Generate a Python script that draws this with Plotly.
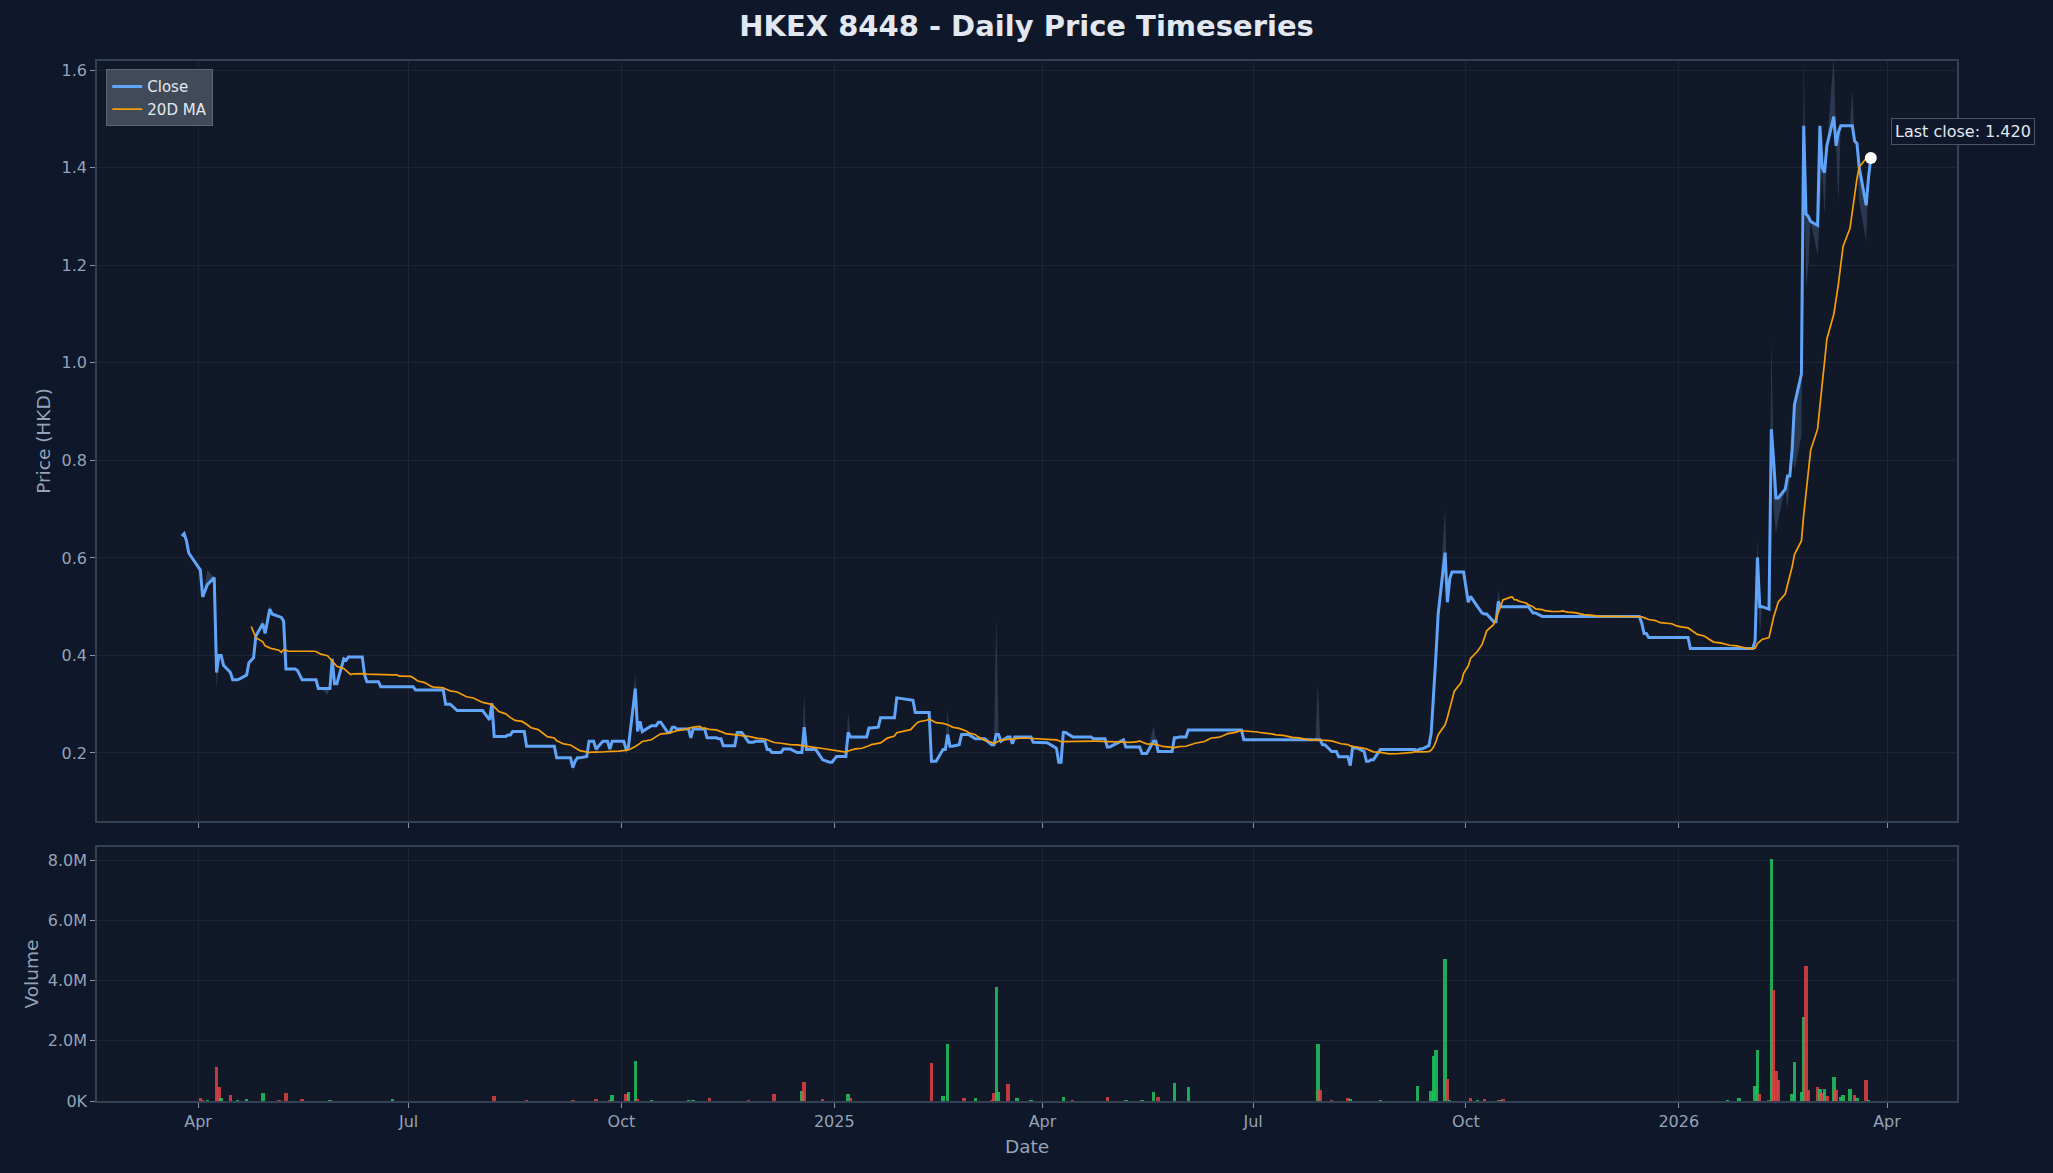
import pandas as pd
import plotly.graph_objects as go
from plotly.subplots import make_subplots

TITLE = "HKEX 8448 - Daily Price Timeseries"

# Exchange holidays (no trading rows)
holidays = ["2024-03-29", "2024-04-01", "2024-04-04", "2024-05-01", "2024-05-15", "2024-06-10",
            "2024-07-01", "2024-09-18", "2024-10-01", "2024-10-11", "2024-12-25", "2024-12-26",
            "2025-01-01", "2025-01-29", "2025-01-30", "2025-01-31", "2025-04-04", "2025-04-18",
            "2025-04-21", "2025-05-01", "2025-05-05", "2025-07-01", "2025-10-01", "2025-10-07",
            "2025-10-29", "2025-12-25", "2025-12-26", "2026-01-01"]

# Close price change points (price holds until the next listed date)
close_dates = [
    "2024-03-25", "2024-03-26", "2024-03-27", "2024-03-28", "2024-04-02",
    "2024-04-03", "2024-04-05", "2024-04-08", "2024-04-09", "2024-04-10", "2024-04-12", "2024-04-15",
    "2024-04-16", "2024-04-19", "2024-04-22", "2024-04-23", "2024-04-24", "2024-04-25", "2024-04-26",
    "2024-04-29", "2024-04-30", "2024-05-02", "2024-05-03", "2024-05-06", "2024-05-07",
    "2024-05-08", "2024-05-09", "2024-05-14", "2024-05-16", "2024-05-23", "2024-05-29", "2024-05-30",
    "2024-06-03", "2024-06-04", "2024-06-05", "2024-06-12", "2024-06-13", "2024-06-19", "2024-07-04",
    "2024-07-17", "2024-07-22", "2024-08-05", "2024-08-06", "2024-08-07", "2024-08-13", "2024-08-15",
    "2024-08-21", "2024-09-03", "2024-09-10", "2024-09-11", "2024-09-12", "2024-09-16", "2024-09-17",
    "2024-09-20", "2024-09-23", "2024-09-26", "2024-09-27", "2024-10-03", "2024-10-04", "2024-10-07",
    "2024-10-08", "2024-10-09", "2024-10-10", "2024-10-14", "2024-10-17", "2024-10-21", "2024-10-23",
    "2024-10-25", "2024-10-31", "2024-11-01", "2024-11-07", "2024-11-12", "2024-11-14", "2024-11-20",
    "2024-11-25", "2024-11-28", "2024-12-03", "2024-12-05", "2024-12-10", "2024-12-16", "2024-12-19",
    "2024-12-20", "2024-12-27", "2024-12-30", "2025-01-02", "2025-01-07", "2025-01-08", "2025-01-16",
    "2025-01-20", "2025-01-21", "2025-01-28", "2025-02-03", "2025-02-05", "2025-02-12", "2025-02-17",
    "2025-02-19", "2025-02-20", "2025-02-24", "2025-02-25", "2025-03-03", "2025-03-10", "2025-03-12",
    "2025-03-14", "2025-03-17", "2025-03-19", "2025-03-20", "2025-03-28", "2025-04-02", "2025-04-07",
    "2025-04-08", "2025-04-10", "2025-04-14", "2025-04-23", "2025-04-29", "2025-05-02", "2025-05-06",
    "2025-05-07", "2025-05-14", "2025-05-19", "2025-05-21", "2025-05-28", "2025-05-30", "2025-06-03",
    "2025-06-27", "2025-07-31", "2025-08-04", "2025-08-07", "2025-08-12", "2025-08-13", "2025-08-18",
    "2025-08-19", "2025-08-21", "2025-08-25", "2025-09-10", "2025-09-11", "2025-09-15", "2025-09-16",
    "2025-09-17", "2025-09-18", "2025-09-19", "2025-09-22", "2025-09-23", "2025-09-24", "2025-09-25",
    "2025-10-02", "2025-10-03", "2025-10-06", "2025-10-08", "2025-10-09", "2025-10-13", "2025-10-15",
    "2025-10-16", "2025-10-30", "2025-11-03", "2025-12-16", "2025-12-17", "2025-12-19", "2026-01-06",
    "2026-02-03", "2026-02-04", "2026-02-05", "2026-02-09", "2026-02-10", "2026-02-11", "2026-02-12",
    "2026-02-16", "2026-02-17", "2026-02-19", "2026-02-20", "2026-02-23", "2026-02-24", "2026-02-25",
    "2026-02-26", "2026-02-27", "2026-03-02", "2026-03-03", "2026-03-04", "2026-03-05", "2026-03-06",
    "2026-03-09", "2026-03-10", "2026-03-11", "2026-03-12", "2026-03-18", "2026-03-19", "2026-03-20",
    "2026-03-23", "2026-03-24", "2026-03-25",
]
close_vals = [
    0.645, 0.650, 0.635, 0.610, 0.575,
    0.520, 0.545, 0.560, 0.365, 0.400, 0.380, 0.365,
    0.350, 0.352, 0.360, 0.385, 0.390, 0.395, 0.440,
    0.465, 0.445, 0.495, 0.485, 0.480, 0.478,
    0.470, 0.372, 0.369, 0.350, 0.332, 0.393, 0.342,
    0.393, 0.390, 0.397, 0.360, 0.346, 0.336, 0.329,
    0.300, 0.287, 0.268, 0.302, 0.234, 0.237, 0.244,
    0.214, 0.190, 0.170, 0.183, 0.190, 0.193, 0.224,
    0.208, 0.224, 0.208, 0.224, 0.208, 0.212, 0.332,
    0.244, 0.265, 0.244, 0.256, 0.263, 0.242, 0.253,
    0.249, 0.231, 0.249, 0.231, 0.229, 0.215, 0.242,
    0.222, 0.224, 0.207, 0.201, 0.208, 0.201, 0.253,
    0.207, 0.186, 0.181, 0.193, 0.242, 0.233, 0.251,
    0.253, 0.272, 0.313, 0.308, 0.283, 0.183, 0.207,
    0.238, 0.214, 0.217, 0.238, 0.229, 0.217, 0.238,
    0.224, 0.233, 0.219, 0.233, 0.222, 0.221, 0.210,
    0.181, 0.242, 0.233, 0.229, 0.212, 0.217, 0.227,
    0.212, 0.199, 0.224, 0.203, 0.231, 0.233, 0.247,
    0.227, 0.217, 0.203, 0.192, 0.174, 0.210, 0.203,
    0.183, 0.186, 0.207, 0.205, 0.208, 0.215, 0.241,
    0.309, 0.397, 0.485, 0.611, 0.509, 0.557, 0.571,
    0.509, 0.521, 0.500, 0.487, 0.485, 0.469, 0.511,
    0.500, 0.487, 0.480, 0.466, 0.445, 0.437, 0.414,
    0.431, 0.601, 0.500, 0.495, 0.864, 0.800, 0.723,
    0.741, 0.768, 0.823, 0.914, 0.977, 1.486, 1.305,
    1.300, 1.290, 1.282, 1.486, 1.400, 1.390, 1.445,
    1.505, 1.445, 1.473, 1.486, 1.455, 1.450, 1.400,
    1.323, 1.380, 1.420,
]

# Intraday high / low where they differ visibly from the close
high_dates = ["2024-03-26", "2024-04-05", "2024-04-29", "2024-05-02", "2024-05-29", "2024-06-05",
              "2024-08-06", "2024-10-07", "2024-12-19", "2025-01-07", "2025-02-19", "2025-03-12",
              "2025-04-10", "2025-05-19", "2025-07-29", "2025-09-22", "2025-10-15", "2026-02-04",
              "2026-02-10", "2026-02-24", "2026-03-09", "2026-03-17"]
high_vals = [0.655, 0.575, 0.475, 0.505, 0.400, 0.402,
             0.310, 0.365, 0.320, 0.282, 0.292, 0.480,
             0.250, 0.255, 0.345, 0.700, 0.535, 0.640,
             1.050, 1.630, 1.630, 1.560]
low_dates = ["2024-04-09", "2024-05-27", "2024-09-10", "2024-09-20", "2024-10-03", "2025-02-12",
             "2025-04-08", "2025-08-12", "2026-02-05", "2026-02-11", "2026-02-12", "2026-02-13",
             "2026-02-17", "2026-02-20", "2026-02-23", "2026-02-25", "2026-02-26", "2026-03-02",
             "2026-03-03", "2026-03-05", "2026-03-11", "2026-03-20", "2026-03-23"]
low_vals = [0.330, 0.320, 0.160, 0.195, 0.195, 0.175,
            0.175, 0.170, 0.440, 0.700, 0.650, 0.680,
            0.700, 0.780, 0.850, 1.150, 1.200, 1.220,
            1.300, 1.300, 1.330, 1.330, 1.250]

# Daily volume (shares) on days with visible trading; vol_up: True = green, False = red
vol_dates = [
    "2024-04-02", "2024-04-03", "2024-04-05", "2024-04-09", "2024-04-10", "2024-04-11", "2024-04-15",
    "2024-04-18", "2024-04-22", "2024-04-29", "2024-05-06", "2024-05-09", "2024-05-16", "2024-05-28",
    "2024-06-24", "2024-08-07", "2024-08-21", "2024-09-10", "2024-09-20", "2024-09-26", "2024-09-27",
    "2024-10-03", "2024-10-04", "2024-10-07", "2024-10-08", "2024-10-14", "2024-10-30", "2024-11-01",
    "2024-11-08", "2024-11-25", "2024-12-06", "2024-12-18", "2024-12-19", "2024-12-27", "2025-01-07",
    "2025-01-08", "2025-02-12", "2025-02-17", "2025-02-19", "2025-02-26", "2025-03-03", "2025-03-10",
    "2025-03-11", "2025-03-12", "2025-03-13", "2025-03-17", "2025-03-21", "2025-03-27", "2025-04-10",
    "2025-04-14", "2025-04-29", "2025-05-07", "2025-05-14", "2025-05-19", "2025-05-21", "2025-05-28",
    "2025-06-03", "2025-07-29", "2025-07-30", "2025-08-04", "2025-08-11", "2025-08-12", "2025-08-25",
    "2025-09-10", "2025-09-16", "2025-09-17", "2025-09-18", "2025-09-22", "2025-09-23", "2025-09-24",
    "2025-10-03", "2025-10-06", "2025-10-09", "2025-10-15", "2025-10-16", "2025-10-17", "2026-01-22",
    "2026-01-27", "2026-02-03", "2026-02-04", "2026-02-05", "2026-02-09", "2026-02-10", "2026-02-11",
    "2026-02-12", "2026-02-13", "2026-02-19", "2026-02-20", "2026-02-23", "2026-02-24", "2026-02-25",
    "2026-02-26", "2026-03-02", "2026-03-03", "2026-03-04", "2026-03-05", "2026-03-06", "2026-03-09",
    "2026-03-10", "2026-03-12", "2026-03-13", "2026-03-16", "2026-03-18", "2026-03-19", "2026-03-23",
    "2026-03-24",
]
vol_vals = [
    0.11e6, 0.05e6, 0.05e6, 1.14e6, 0.45e6, 0.11e6, 0.19e6,
    0.03e6, 0.08e6, 0.25e6, 0.03e6, 0.28e6, 0.08e6, 0.04e6,
    0.07e6, 0.16e6, 0.04e6, 0.05e6, 0.08e6, 0.04e6, 0.19e6,
    0.22e6, 0.29e6, 1.33e6, 0.07e6, 0.05e6, 0.03e6, 0.04e6,
    0.10e6, 0.04e6, 0.22e6, 0.33e6, 0.62e6, 0.08e6, 0.22e6,
    0.10e6, 1.25e6, 0.15e6, 1.89e6, 0.10e6, 0.10e6, 0.05e6,
    0.25e6, 3.79e6, 0.30e6, 0.56e6, 0.10e6, 0.05e6, 0.13e6,
    0.05e6, 0.14e6, 0.05e6, 0.03e6, 0.31e6, 0.14e6, 0.61e6,
    0.46e6, 1.89e6, 0.38e6, 0.05e6, 0.10e6, 0.08e6, 0.04e6,
    0.49e6, 0.32e6, 1.50e6, 1.70e6, 4.71e6, 0.73e6, 0.05e6,
    0.10e6, 0.05e6, 0.08e6, 0.05e6, 0.05e6, 0.07e6, 0.05e6,
    0.10e6, 0.50e6, 1.71e6, 0.22e6, 0.05e6, 8.05e6, 3.69e6,
    1.00e6, 0.70e6, 0.22e6, 1.31e6, 0.30e6, 2.80e6, 4.50e6,
    0.37e6, 0.47e6, 0.40e6, 0.27e6, 0.39e6, 0.15e6, 0.80e6,
    0.38e6, 0.13e6, 0.20e6, 0.40e6, 0.20e6, 0.10e6, 0.70e6,
    0.04e6,
]
vol_up = [
    False, False, True, False, False, True, False,
    True, True, True, False, False, False, True,
    True, False, False, False, False, False, True,
    False, True, True, False, True, True, True,
    False, False, False, True, False, False, True,
    False, False, True, True, False, True, False,
    False, True, True, False, True, True, True,
    False, False, True, True, True, False, True,
    True, True, False, False, False, True, True,
    True, True, True, True, True, False, True,
    False, True, False, False, True, False, True,
    True, True, True, False, False, True, False,
    False, False, True, True, True, True, False,
    False, False, True, False, True, False, True,
    False, True, True, True, False, True, False,
    True,
]

PRICE_TICKS = [0.2, 0.4, 0.6, 0.8, 1.0, 1.2, 1.4, 1.6]
VOL_TICKS = [0, 2e6, 4e6, 6e6, 8e6]
VOL_TICK_TEXT = ["0K", "2.0M", "4.0M", "6.0M", "8.0M"]
X_TICKS = ["2024-04-01", "2024-07-01", "2024-10-01", "2025-01-01", "2025-04-01",
           "2025-07-01", "2025-10-01", "2026-01-01", "2026-04-01"]
X_TICK_TEXT = ["Apr", "Jul", "Oct", "2025", "Apr", "Jul", "Oct", "2026", "Apr"]

# ---- build daily series on trading days ----
bdays = pd.bdate_range(close_dates[0], close_dates[-1])
bdays = bdays[~bdays.isin(pd.to_datetime(holidays))]
cp = pd.Series(close_vals, index=pd.to_datetime(close_dates))
close = cp.reindex(bdays.union(cp.index)).ffill().loc[bdays]
ma20 = close.rolling(20).mean()
high = close.copy()
for d, v in zip(pd.to_datetime(high_dates), high_vals):
    if d in high.index:
        high[d] = max(high[d], v)
low = close.copy()
for d, v in zip(pd.to_datetime(low_dates), low_vals):
    if d in low.index:
        low[d] = min(low[d], v)

BG = "#0f172a"
PLOT_BG = "#111827"
SPINE = "#334155"
GRID = "#1c2435"
TXT = "#94a3b8"
FONT = "DejaVu Sans"

fig = make_subplots(rows=2, cols=1, shared_xaxes=True, vertical_spacing=0.02)

fig.add_trace(go.Scatter(x=bdays, y=low, mode="lines", line=dict(width=0), showlegend=False,
                         hoverinfo="skip"), row=1, col=1)
fig.add_trace(go.Scatter(x=bdays, y=high, mode="lines", line=dict(width=0), fill="tonexty",
                         fillcolor="rgba(120,150,200,0.25)", showlegend=False, hoverinfo="skip"),
              row=1, col=1)
fig.add_trace(go.Scatter(x=bdays, y=close, mode="lines", name="Close",
                         line=dict(color="#60a5fa", width=3.0)), row=1, col=1)
fig.add_trace(go.Scatter(x=bdays, y=ma20, mode="lines", name="20D MA",
                         line=dict(color="#f59e0b", width=1.7)), row=1, col=1)
fig.add_trace(go.Scatter(x=[bdays[-1]], y=[close.iloc[-1]], mode="markers", showlegend=False,
                         marker=dict(color="white", size=12)), row=1, col=1)

vcolors = ["rgba(34,197,94,0.85)" if u else "rgba(239,68,68,0.8)" for u in vol_up]
fig.add_trace(go.Bar(x=pd.to_datetime(vol_dates), y=vol_vals,
                     marker=dict(color=vcolors, line=dict(width=0)),
                     width=1.5 * 86400000, showlegend=False), row=2, col=1)

fig.add_annotation(x=bdays[-1], y=close.iloc[-1], xref="x", yref="y",
                   text=f"Last close: {close.iloc[-1]:.3f}", showarrow=False,
                   xanchor="left", yanchor="middle", xshift=20, yshift=27,
                   font=dict(family=FONT, size=16, color="#e2e8f0"),
                   bgcolor=BG, bordercolor="#475569", borderwidth=1, borderpad=3)

W, H = 2053, 1173
ml, mr, mt, mb = 97, 96, 61, 72
ph = H - mt - mb
fig.update_layout(
    width=W, height=H,
    margin=dict(l=ml, r=mr, t=mt, b=mb),
    paper_bgcolor=BG, plot_bgcolor=PLOT_BG,
    font=dict(family=FONT, color=TXT, size=16),
    title=dict(text=f"<b>{TITLE}</b>", x=0.5, xanchor="center", y=1 - 26 / H, yanchor="middle",
               font=dict(family=FONT, size=29, color="#e2e8f0")),
    legend=dict(x=0.005, y=0.992, xanchor="left", yanchor="top", traceorder="normal",
                bgcolor="rgba(71,80,95,0.9)", bordercolor="#5b6474", borderwidth=1,
                font=dict(family=FONT, size=15, color="#e2e8f0"), tracegroupgap=0),
    bargap=0, showlegend=True,
)

xr = ["2024-02-17 08:00", "2026-05-01 06:00"]
axis_common = dict(showline=True, linecolor=SPINE, linewidth=1.5, mirror=True,
                   gridcolor=GRID, gridwidth=1, zeroline=False,
                   ticks="outside", ticklen=5, tickwidth=1.3, tickcolor="#8a94a6",
                   tickfont=dict(family=FONT, size=16, color=TXT))
fig.update_xaxes(**axis_common, range=xr, tickvals=X_TICKS, ticktext=X_TICK_TEXT)
fig.update_xaxes(showticklabels=False, row=1, col=1)
fig.update_xaxes(title=dict(text="Date", font=dict(family=FONT, size=18.5, color=TXT), standoff=10),
                 row=2, col=1)
fig.update_yaxes(**axis_common)
fig.update_yaxes(range=[0.0605, 1.619], tickvals=PRICE_TICKS, tickformat=".1f",
                 title=dict(text="Price (HKD)", font=dict(family=FONT, size=18.5, color=TXT), standoff=6),
                 domain=[(H - mb - 821) / ph, 1.0], row=1, col=1)
fig.update_yaxes(range=[0, 8.45e6], tickvals=VOL_TICKS, ticktext=VOL_TICK_TEXT,
                 title=dict(text="Volume", font=dict(family=FONT, size=18.5, color=TXT), standoff=4),
                 domain=[0.0, (H - mb - 847) / ph], row=2, col=1)

fig.write_html("out.html", config={"displayModeBar": False},
               post_script="document.body.style.margin='0';"
                           "document.body.style.background='#0f172a';"
                           "document.documentElement.style.background='#0f172a';")
